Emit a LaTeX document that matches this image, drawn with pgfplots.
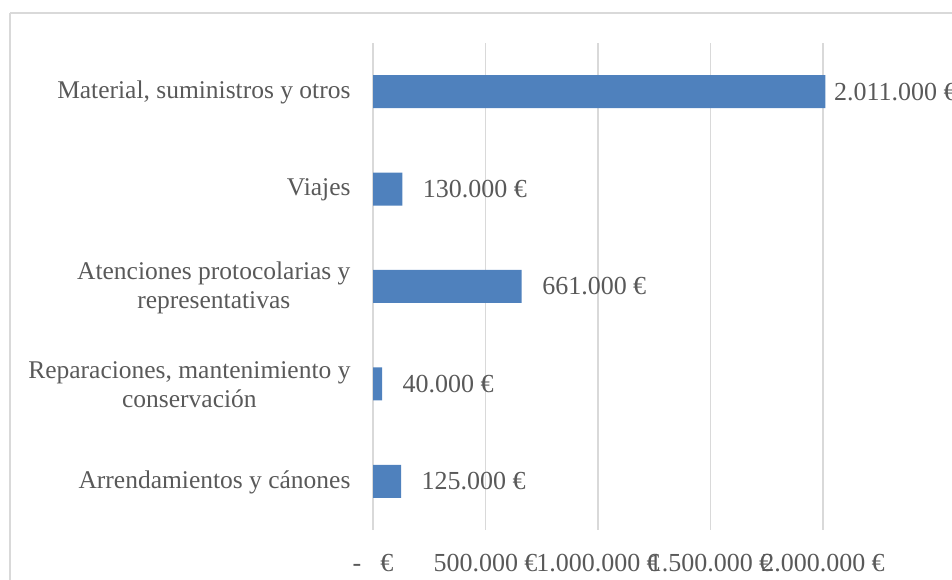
\documentclass[border=0pt]{standalone}
\usepackage{fontspec}
\setmainfont{Liberation Serif}
\usepackage{pgfplots}
\pgfplotsset{compat=1.18}
\definecolor{barblue}{HTML}{4F81BD}
\definecolor{txtgray}{HTML}{595959}
\definecolor{gridgray}{HTML}{D9D9D9}

\begin{document}
\begin{tikzpicture}[x=1bp,y=1bp]
% outer chart frame (cut off on the right and at the bottom)
\draw[gridgray, line width=1.3bp] (10,567) -- (980,567);
\draw[gridgray, line width=1.3bp] (10,567) -- (10,-20);
\begin{axis}[
    at={(373bp,50bp)}, anchor=south west,
    scale only axis,
    width=450bp, height=487bp,
    xmin=0, xmax=2000000,
    ymin=-0.5, ymax=4.5,
    clip=false,
    axis line style={draw=none},
    major tick length=0pt,
    xmajorgrids,
    grid style={gridgray, line width=1.3bp},
    xtick={0,500000,1000000,1500000,2000000},
    xticklabels={{-\hspace{19bp}€},{500.000 €},{1.000.000 €},{1.500.000 €},{2.000.000 €}},
    scaled x ticks=false,
    ytick={0,1,2,3,4},
    yticklabels={
        {Arrendamientos y cánones},
        {Reparaciones, mantenimiento y\\conservación},
        {Atenciones protocolarias y\\representativas},
        {Viajes},
        {Material, suministros y otros}},
    x tick label style={font=\fontsize{26bp}{28bp}\selectfont, text=txtgray, yshift=-21bp},
    y tick label style={font=\fontsize{25.5bp}{29bp}\selectfont, text=txtgray, align=center, xshift=-19bp, yshift=-1bp},
]
\addplot[xbar, bar width=33bp, fill=barblue, draw=none] coordinates {
    (125000,0) (40000,1) (661000,2) (130000,3) (2011000,4)};
\addplot[draw=none, mark=none, nodes near coords, point meta=explicit symbolic,
    every node near coord/.style={anchor=west, xshift=17bp, text=txtgray,
        font=\fontsize{26bp}{28bp}\selectfont}]
    coordinates {(125000,0) [125.000 €] (40000,1) [40.000 €] (661000,2) [661.000 €] (130000,3) [130.000 €]};
\addplot[draw=none, mark=none, nodes near coords, point meta=explicit symbolic,
    every node near coord/.style={anchor=west, xshift=5bp, text=txtgray,
        font=\fontsize{26bp}{28bp}\selectfont}]
    coordinates {(2011000,4) [2.011.000 €]};
\end{axis}
\pgfresetboundingbox
\path[use as bounding box] (0,0) rectangle (952,580);
\end{tikzpicture}
\end{document}
